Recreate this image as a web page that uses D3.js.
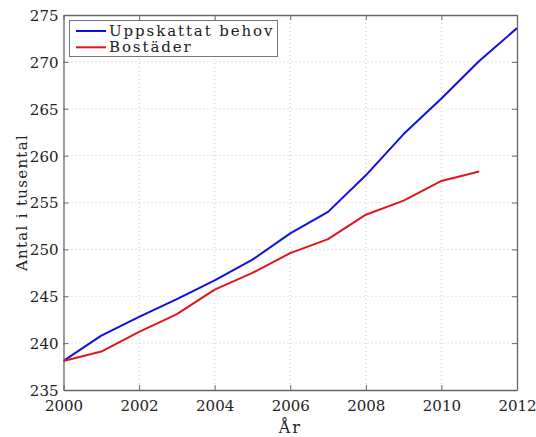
<!DOCTYPE html>
<html>
<head>
<meta charset="utf-8">
<script src="https://cdn.jsdelivr.net/npm/d3@7"></script>
<style>
  html, body { margin: 0; padding: 0; background: #fff; }
  svg text { font-family: "DejaVu Serif", serif; fill: #222; }
</style>
</head>
<body>
<svg id="chart" width="536" height="437"></svg>
<script>
// Housing need vs. number of dwellings (thousands), 2000–2012
const years = [2000, 2001, 2002, 2003, 2004, 2005, 2006, 2007, 2008, 2009, 2010, 2011, 2012];
const behov = [238.1, 240.8, 242.8, 244.7, 246.7, 248.9, 251.7, 254.0, 257.9, 262.3, 266.1, 270.1, 273.6];
const bostadYears = [2000, 2001, 2002, 2003, 2004, 2005, 2006, 2007, 2008, 2009, 2010, 2011];
const bostader = [238.1, 239.1, 241.2, 243.1, 245.7, 247.5, 249.6, 251.1, 253.7, 255.2, 257.3, 258.3];
const xTicks = [2000, 2002, 2004, 2006, 2008, 2010, 2012];
const yTicks = [235, 240, 245, 250, 255, 260, 265, 270, 275];
const seriesNames = ["Uppskattat behov", "Bostäder"];
const seriesColors = ["#1010e0", "#e0161c"];

const svg = d3.select("#chart");
const m = { left: 63.5, right: 517, top: 15, bottom: 390 };
const serif = "DejaVu Serif, serif";

const x = d3.scaleLinear().domain([2000, 2012]).range([m.left, m.right]);
const y = d3.scaleLinear().domain([235, 275]).range([m.bottom, m.top]);

// dotted grid
const grid = svg.append("g");
grid.selectAll(".gx").data(xTicks.slice(1, -1)).enter().append("line")
  .attr("x1", d => x(d)).attr("x2", d => x(d))
  .attr("y1", m.top).attr("y2", m.bottom)
  .attr("stroke", "#c8c8c8").attr("stroke-width", 1).attr("stroke-dasharray", "1,3");
grid.selectAll(".gy").data(yTicks.slice(1, -1)).enter().append("line")
  .attr("x1", m.left).attr("x2", m.right)
  .attr("y1", d => y(d)).attr("y2", d => y(d))
  .attr("stroke", "#c8c8c8").attr("stroke-width", 1).attr("stroke-dasharray", "1,3");

// series lines
const line = d3.line().x(d => x(d[0])).y(d => y(d[1]));
const series = [
  d3.zip(years, behov),
  d3.zip(bostadYears, bostader)
];
svg.selectAll(".series").data(series).enter().append("path")
  .attr("d", line)
  .attr("fill", "none")
  .attr("stroke", (d, i) => seriesColors[i])
  .attr("stroke-width", 2)
  .attr("stroke-linejoin", "round");

// axes: ticks pointing inward on all four sides
const tickLen = 5;
const fontSize = "15px";
const bottomAxis = d3.axisBottom(x).tickValues(xTicks).tickFormat(d3.format("d"))
  .tickSizeInner(-tickLen).tickSizeOuter(0).tickPadding(10);
const topAxis = d3.axisTop(x).tickValues(xTicks).tickFormat("")
  .tickSizeInner(-tickLen).tickSizeOuter(0);
const leftAxis = d3.axisLeft(y).tickValues(yTicks).tickFormat(d3.format("d"))
  .tickSizeInner(-tickLen).tickSizeOuter(0).tickPadding(5);
const rightAxis = d3.axisRight(y).tickValues(yTicks).tickFormat("")
  .tickSizeInner(-tickLen).tickSizeOuter(0);

function style(g) {
  g.attr("font-family", serif);
  g.select(".domain").attr("stroke", "#666").attr("stroke-width", 1.3);
  g.selectAll(".tick line").attr("stroke", "#666");
  g.selectAll(".tick text").attr("font-size", fontSize)
    .attr("font-family", serif).attr("fill", "#222");
}
svg.append("g").attr("transform", `translate(0,${m.bottom})`).call(bottomAxis).call(style);
svg.append("g").attr("transform", `translate(0,${m.top})`).call(topAxis).call(style);
svg.append("g").attr("transform", `translate(${m.left},0)`).call(leftAxis).call(style)
  .selectAll(".tick text").attr("dy", "0.36em");
svg.append("g").attr("transform", `translate(${m.right},0)`).call(rightAxis).call(style);

// axis titles
svg.append("text")
  .attr("x", (m.left + m.right) / 2).attr("y", 433)
  .attr("text-anchor", "middle").attr("font-size", "16px")
  .attr("font-family", serif).attr("letter-spacing", "2px")
  .text("År");
svg.append("text")
  .attr("transform", `translate(27,${(m.top + m.bottom) / 2}) rotate(-90)`)
  .attr("text-anchor", "middle").attr("font-size", "15px")
  .attr("font-family", serif).attr("letter-spacing", "1.3px")
  .text("Antal i tusental");

// legend
const lg = svg.append("g");
lg.append("rect")
  .attr("x", 69.5).attr("y", 20.5).attr("width", 208).attr("height", 36)
  .attr("fill", "#fff").attr("stroke", "#777").attr("stroke-width", 1);
seriesNames.forEach((name, i) => {
  const yy = 31 + i * 16.3;
  lg.append("line")
    .attr("x1", 76).attr("x2", 106).attr("y1", yy).attr("y2", yy)
    .attr("stroke", seriesColors[i]).attr("stroke-width", 2);
  lg.append("text")
    .attr("x", 109).attr("y", yy).attr("dy", "0.34em")
    .attr("font-size", "15px").attr("font-family", serif).attr("letter-spacing", "1.9px")
    .text(name);
});
</script>
</body>
</html>
